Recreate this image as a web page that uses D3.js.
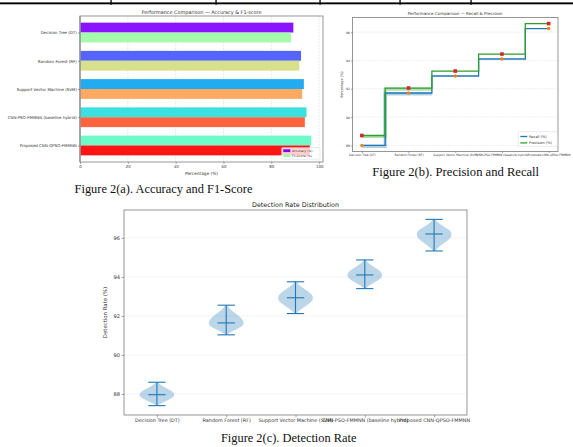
<!DOCTYPE html>
<html><head><meta charset="utf-8">
<script src="https://cdn.jsdelivr.net/npm/d3@7"></script>
<style>html,body{margin:0;padding:0;background:#fff}svg{display:block}</style>
</head><body>
<script>
// ---------------- data ----------------
const categories = ["Decision Tree (DT)", "Random Forest (RF)", "Support Vector Machine (SVM)", "CNN-PSO-FMMNN (baseline hybrid)", "Proposed CNN-QPSO-FMMNN"];
const accuracy = [89.2, 92.4, 93.6, 94.7, 96.7];
const f1Score  = [88.2, 91.7, 92.9, 94.0, 96.1];
const recall    = [88.0, 91.7, 92.9, 94.1, 96.25];
const precision = [88.7, 92.05, 93.25, 94.45, 96.6];
const drMin    = [87.4, 91.03, 92.12, 93.4, 95.33];
const drMedian = [87.96, 91.64, 92.93, 94.1, 96.2];
const drMax    = [88.6, 92.55, 93.75, 94.87, 96.95];
const violinProfile = [0.06, 0.2, 0.4, 0.62, 0.83, 0.97, 1.0, 0.95, 0.8, 0.58, 0.36, 0.18, 0.06];
const xTicksA = [0, 20, 40, 60, 80, 100];
const yTicksB = [88, 90, 92, 94, 96];
const yTicksC = [88, 90, 92, 94, 96];

// ---------------- styles ----------------
const accColors = ["#8000ff", "#4757fb", "#0ea4f0", "#2adddd", "#62fbc4"];
const f1Colors  = ["#9cfba4", "#d4dd80", "#ffa256", "#ff562c", "#ff0000"];
const FONT = "DejaVu Sans";
const SERIF = "Liberation Serif";
const frameColor = "#8c8c8c";

const svg = d3.select("body").append("svg").attr("width", 573).attr("height", 447)
  .style("background", "#fff");

// table border remnants at the very top
svg.append("rect").attr("x", 0).attr("y", 2.4).attr("width", 573).attr("height", 1.9).attr("fill", "#000");
[111, 216, 320, 400, 471].forEach(x => {
  svg.append("rect").attr("x", x - 0.6).attr("y", 0).attr("width", 1.3).attr("height", 4.8).attr("fill", "#000");
});

function styleAxis(g, fs) {
  g.select(".domain").remove();
  g.attr("font-family", FONT).attr("font-size", fs);
  g.selectAll(".tick line").attr("stroke", "#555").attr("stroke-width", 0.5);
  g.selectAll(".tick text").attr("fill", "#333");
}
function frame(b) {
  svg.append("rect").attr("x", b.l).attr("y", b.t).attr("width", b.r - b.l).attr("height", b.b - b.t)
    .attr("fill", "none").attr("stroke", frameColor).attr("stroke-width", 0.9);
}
function label(x, y, txt, fs, fam, color) {
  return svg.append("text").attr("x", x).attr("y", y).attr("text-anchor", "middle")
    .attr("font-family", fam || FONT).attr("font-size", fs).style("fill", color || "#222").text(txt);
}

// ================= Panel (a) =================
const A = {l: 80, r: 323, t: 16, b: 162};
const xA = d3.scaleLinear().domain([0, 101.6]).range([A.l, A.r]);
const yA = d3.scaleLinear().domain([-0.585, 4.585]).range([A.t, A.b]);
const gA = svg.append("g");
gA.selectAll("line.grid").data(xTicksA).join("line")
  .attr("x1", d => xA(d)).attr("x2", d => xA(d)).attr("y1", A.t).attr("y2", A.b)
  .attr("stroke", "#dcdcdc").attr("stroke-width", 0.6).attr("stroke-dasharray", "2,1.2");
const bh = 0.35;
gA.selectAll("rect.acc").data(accuracy).join("rect")
  .attr("x", xA(0)).attr("y", (d, i) => yA(i - bh)).attr("width", d => xA(d) - xA(0))
  .attr("height", yA(bh) - yA(0)).attr("fill", (d, i) => accColors[i]).attr("fill-opacity", 0.92);
gA.selectAll("rect.f1").data(f1Score).join("rect")
  .attr("x", xA(0)).attr("y", (d, i) => yA(i)).attr("width", d => xA(d) - xA(0))
  .attr("height", yA(bh) - yA(0)).attr("fill", (d, i) => f1Colors[i]).attr("fill-opacity", 0.92);
frame(A);
svg.append("line").attr("x1", A.l).attr("x2", A.l).attr("y1", A.t).attr("y2", A.b)
  .attr("stroke", "#999").attr("stroke-width", 1.4);
const axA = svg.append("g").attr("transform", `translate(0,${A.b})`)
  .call(d3.axisBottom(xA).tickValues(xTicksA).tickSize(2).tickPadding(1.2));
styleAxis(axA, 3.9);
const ayA = svg.append("g").attr("transform", `translate(${A.l},0)`)
  .call(d3.axisLeft(yA).tickValues(d3.range(categories.length)).tickFormat(i => categories[i]).tickSize(2).tickPadding(1.2));
styleAxis(ayA, 3.95);
label((A.l + A.r) / 2, 175, "Percentage (%)", 4.3, FONT, "#333");
label(201.5, 14.2, "Performance Comparison — Accuracy & F1-score", 4.9, FONT, "#333");
// legend (a)
const lgA = svg.append("g").attr("transform", "translate(281.5,147.5)");
lgA.append("rect").attr("width", 38.5).attr("height", 11.8).attr("rx", 1)
  .attr("fill", "#fff").attr("fill-opacity", 0.8).attr("stroke", "#ccc").attr("stroke-width", 0.4);
[["Accuracy (%)", accColors[0]], ["F1-Score (%)", f1Colors[0]]].forEach((e, k) => {
  lgA.append("rect").attr("x", 1.8).attr("y", 1.8 + k * 5).attr("width", 7).attr("height", 2.8).attr("fill", e[1]);
  lgA.append("text").attr("x", 10.5).attr("y", 4.4 + k * 5).attr("font-family", FONT).attr("font-size", 3.1)
    .style("fill", "#333").text(e[0]);
});
label(163.5, 193, "Figure 2(a). Accuracy and F1-Score", 12.4, SERIF, "#111");

// ================= Panel (b) =================
const B = {l: 352.5, r: 558, t: 17.5, b: 151.5};
const xB = d3.scaleLinear().domain([-0.2, 4.2]).range([B.l, B.r]);
const yB = d3.scaleLinear().domain([87.57, 97.03]).range([B.b, B.t]);
svg.append("g").selectAll("line").data(yTicksB).join("line")
  .attr("x1", B.l).attr("x2", B.r).attr("y1", d => yB(d)).attr("y2", d => yB(d))
  .attr("stroke", "#e2e2e2").attr("stroke-width", 0.6).attr("stroke-dasharray", "2,1.2");
const stepLine = d3.line().x(d => xB(d[0])).y(d => yB(d[1])).curve(d3.curveStep);
const recPts = recall.map((v, i) => [i, v]);
const prePts = precision.map((v, i) => [i, v]);
// soft bands under the first steps
[[recall, "#1f77b4"], [precision, "#2ca02c"]].forEach(([arr, c]) => {
  const pts = [[0, arr[0]], [1, arr[1]], [1.5, arr[1]]];
  svg.append("path").attr("d", stepLine(pts)).attr("fill", "none").attr("stroke", c)
    .attr("stroke-opacity", 0.35).attr("stroke-width", 3.2).attr("transform", "translate(0,1)");
});
svg.append("path").attr("d", stepLine(recPts)).attr("fill", "none").attr("stroke", "#1f77b4").attr("stroke-width", 1.3);
svg.append("path").attr("d", stepLine(prePts)).attr("fill", "none").attr("stroke", "#2ca02c").attr("stroke-width", 1.3);
svg.append("g").selectAll("circle").data(recall).join("circle")
  .attr("cx", (d, i) => xB(i)).attr("cy", d => yB(d)).attr("r", 1.7).attr("fill", "#ff7f0e");
svg.append("g").selectAll("rect").data(precision).join("rect")
  .attr("x", (d, i) => xB(i) - 1.8).attr("y", d => yB(d) - 1.8).attr("width", 3.6).attr("height", 3.6).attr("fill", "#d62728");
frame(B);
const axB = svg.append("g").attr("transform", `translate(0,${B.b})`)
  .call(d3.axisBottom(xB).tickValues(d3.range(categories.length)).tickFormat(i => categories[i]).tickSize(1.5).tickPadding(1));
styleAxis(axB, 2.95);
const ayB = svg.append("g").attr("transform", `translate(${B.l},0)`)
  .call(d3.axisLeft(yB).tickValues(yTicksB).tickSize(1.5).tickPadding(1));
styleAxis(ayB, 3.1);
svg.append("text").attr("transform", `translate(342.5,${(B.t + B.b) / 2}) rotate(-90)`).attr("text-anchor", "middle")
  .attr("font-family", FONT).attr("font-size", 3.4).style("fill", "#333").text("Percentage (%)");
label(455, 14.6, "Performance Comparison — Recall & Precision", 4.1, FONT, "#333");
const lgB = svg.append("g").attr("transform", "translate(518.3,131.7)");
lgB.append("rect").attr("width", 39).attr("height", 15).attr("rx", 1)
  .attr("fill", "#fff").attr("fill-opacity", 0.8).attr("stroke", "#ccc").attr("stroke-width", 0.4);
[["Recall (%)", "#1f77b4"], ["Precision (%)", "#2ca02c"]].forEach((e, k) => {
  lgB.append("line").attr("x1", 2).attr("x2", 9).attr("y1", 4.8 + k * 6.4).attr("y2", 4.8 + k * 6.4)
    .attr("stroke", e[1]).attr("stroke-width", 1.3);
  lgB.append("text").attr("x", 10.8).attr("y", 6 + k * 6.4).attr("font-family", FONT).attr("font-size", 3.5)
    .style("fill", "#333").text(e[0]);
});
label(455.7, 176, "Figure 2(b). Precision and Recall", 12.6, SERIF, "#111");

// ================= Panel (c) =================
const C = {l: 124, r: 467, t: 210, b: 415};
const xC = d3.scaleLinear().domain([0.525, 5.475]).range([C.l, C.r]);
const yC = d3.scaleLinear().domain([86.92, 97.43]).range([C.b, C.t]);
svg.append("g").selectAll("line").data(yTicksC).join("line")
  .attr("x1", C.l).attr("x2", C.r).attr("y1", d => yC(d)).attr("y2", d => yC(d))
  .attr("stroke", "#e2e2e2").attr("stroke-width", 0.6).attr("stroke-dasharray", "2,1.2");
const area = d3.area().curve(d3.curveCatmullRom)
  .y(d => yC(d.v)).x0(d => xC(d.p - d.w)).x1(d => xC(d.p + d.w));
const n = violinProfile.length;
categories.forEach((c, i) => {
  const p = i + 1;
  const pts = violinProfile.map((w, k) => {
    const t = k / (n - 1);
    const v = t <= 0.5 ? drMin[i] + (drMedian[i] - drMin[i]) * (t / 0.5)
                       : drMedian[i] + (drMax[i] - drMedian[i]) * ((t - 0.5) / 0.5);
    return {p, v, w: w * 0.25};
  });
  svg.append("path").attr("d", area(pts)).attr("fill", "#1f77b4").attr("fill-opacity", 0.3).attr("stroke", "none");
  const g = svg.append("g").attr("stroke", "#1f77b4").attr("stroke-width", 1.1);
  g.append("line").attr("x1", xC(p)).attr("x2", xC(p)).attr("y1", yC(drMin[i])).attr("y2", yC(drMax[i]));
  [drMin[i], drMax[i], drMedian[i]].forEach(v => {
    g.append("line").attr("x1", xC(p - 0.125)).attr("x2", xC(p + 0.125)).attr("y1", yC(v)).attr("y2", yC(v));
  });
});
frame(C);
const axC = svg.append("g").attr("transform", `translate(0,${C.b})`)
  .call(d3.axisBottom(xC).tickValues(d3.range(1, categories.length + 1)).tickFormat(i => categories[i - 1]).tickSize(2.5).tickPadding(1.5));
styleAxis(axC, 4.9);
const ayC = svg.append("g").attr("transform", `translate(${C.l},0)`)
  .call(d3.axisLeft(yC).tickValues(yTicksC).tickSize(2.5).tickPadding(1.5));
styleAxis(ayC, 5.1);
svg.append("text").attr("transform", `translate(106.5,${(C.t + C.b) / 2}) rotate(-90)`).attr("text-anchor", "middle")
  .attr("font-family", FONT).attr("font-size", 5.4).style("fill", "#333").text("Detection Rate (%)");
label((C.l + C.r) / 2, 206.5, "Detection Rate Distribution", 6.4, FONT, "#222");
label(288.7, 442.3, "Figure 2(c). Detection Rate", 12.4, SERIF, "#111");
</script>
</body></html>
